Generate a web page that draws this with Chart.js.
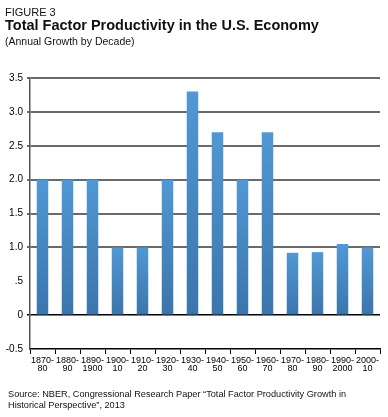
<!DOCTYPE html>
<html>
<head>
<meta charset="utf-8">
<script src="https://cdn.jsdelivr.net/npm/chart.js@4.4.1/dist/chart.umd.min.js"></script>
<style>
  html, body { margin: 0; padding: 0; background: #fff; }
  body { width: 388px; height: 417px; position: relative; overflow: hidden; font-family: "Liberation Sans", Arial, Helvetica, sans-serif; color: #111; }
  .t { position: absolute; left: 5px; white-space: nowrap; }
  #fig { top: 6px; font-size: 11px; }
  #title { top: 17px; font-size: 14.5px; font-weight: bold; }
  #sub { top: 35px; font-size: 10.5px; }
  #src { top: 389px; left: 8px; font-size: 9.2px; line-height: 11px; }
  #wrap { position: absolute; left: 0; top: 0; width: 388px; height: 417px; }
</style>
</head>
<body>
<div id="wrap"><canvas id="c" width="388" height="417"></canvas></div>
<div class="t" id="fig">FIGURE 3</div>
<div class="t" id="title">Total Factor Productivity in the U.S. Economy</div>
<div class="t" id="sub">(Annual Growth by Decade)</div>
<div class="t" id="src">Source: NBER, Congressional Research Paper “Total Factor Productivity Growth in<br>Historical Perspective”, 2013</div>
<script>
const decades = [
  ['1870-','80'], ['1880-','90'], ['1890-','1900'], ['1900-','10'], ['1910-','20'],
  ['1920-','30'], ['1930-','40'], ['1940-','50'], ['1950-','60'], ['1960-','70'],
  ['1970-','80'], ['1980-','90'], ['1990-','2000'], ['2000-','10']
];
const tfpGrowth = [2.0, 2.0, 2.0, 1.0, 1.0, 2.0, 3.3, 2.7, 2.0, 2.7, 0.92, 0.93, 1.05, 1.0];
const yTickLabels = { '-0.5': '-0.5', '0': '0', '0.5': '.5', '1': '1.0', '1.5': '1.5', '2': '2.0', '2.5': '2.5', '3': '3.0', '3.5': '3.5' };

const xFont = { family: "'Liberation Sans', Arial, sans-serif", size: 9, lineHeight: 0.95 };
const yFont = { family: "'Liberation Sans', Arial, sans-serif", size: 10 };

function barFill(ctx) {
  const chart = ctx.chart;
  const ys = chart.scales.y;
  if (!ys || ctx.dataIndex === undefined) return '#4a8bc8';
  const v = ctx.dataset.data[ctx.dataIndex];
  const top = ys.getPixelForValue(v);
  const bot = ys.getPixelForValue(0);
  if (!isFinite(top) || !isFinite(bot) || top === bot) return '#4a8bc8';
  const g = chart.ctx.createLinearGradient(0, top, 0, bot);
  g.addColorStop(0, '#5198d4');
  g.addColorStop(1, '#3b75ab');
  return g;
}

new Chart(document.getElementById('c'), {
  type: 'bar',
  data: {
    labels: decades,
    datasets: [{ data: tfpGrowth, backgroundColor: barFill, borderWidth: 0, barPercentage: 0.46, categoryPercentage: 1.0 }]
  },
  options: {
    responsive: false,
    animation: false,
    devicePixelRatio: 1,
    layout: { padding: { top: 78, right: 8, left: 0, bottom: 0 } },
    plugins: { legend: { display: false }, tooltip: { enabled: false } },
    scales: {
      x: {
        offset: true,
        border: { display: true, color: '#000', width: 1.5 },
        grid: { display: true, drawOnChartArea: false, drawTicks: true, tickLength: 5, color: '#000', lineWidth: 1, offset: true },
        ticks: { color: '#000', font: xFont, maxRotation: 0, autoSkip: false, padding: 2 },
        afterFit: s => { s.height = 68; }
      },
      y: {
        min: -0.5, max: 3.5,
        border: { display: true, color: '#555', width: 1.5 },
        grid: {
          drawTicks: true, tickLength: 3,
          color: c => {
            const v = c.tick ? c.tick.value : null;
            if (v === 0) return '#000';
            if (v === 0.5 || v === -0.5) return 'rgba(0,0,0,0)';
            return '#6a6a6a';
          },
          lineWidth: c => (c.tick && c.tick.value === 0) ? 1.5 : 2
        },
        ticks: {
          stepSize: 0.5, color: '#000', font: yFont, padding: 4,
          callback: v => yTickLabels[String(v)] !== undefined ? yTickLabels[String(v)] : v
        },
        afterFit: s => { s.width = 30; }
      }
    }
  }
});
</script>
</body>
</html>
